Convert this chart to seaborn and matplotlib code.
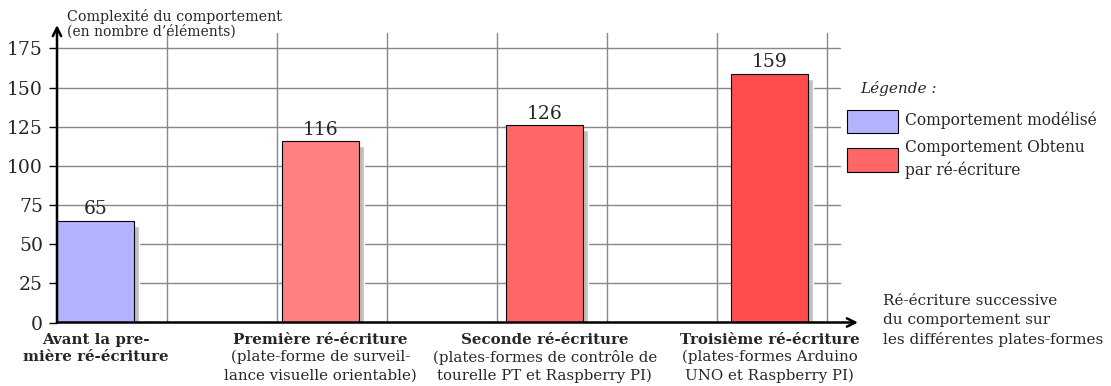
import numpy as np
import matplotlib
matplotlib.use('Agg')
import matplotlib.pyplot as plt
import seaborn as sns
from matplotlib.patches import Rectangle

# data
categories = ['Avant', 'Première', 'Seconde', 'Troisième']
values = [65, 116, 126, 159]
bar_colors = ['#b3b3ff', '#ff8080', '#ff6666', '#ff4d4d']
titles = ['Avant la pre-\nmière ré-écriture', 'Première ré-écriture',
          'Seconde ré-écriture', 'Troisième ré-écriture']
subtitles = ['', '(plate-forme de surveil-\nlance visuelle orientable)',
             '(plates-formes de contrôle de\ntourelle PT et Raspberry PI)',
             '(plates-formes Arduino\nUNO et Raspberry PI)']
yticks = [0, 25, 50, 75, 100, 125, 150, 175]
legend_labels = ['Comportement modélisé', 'Comportement Obtenu\npar ré-écriture']
legend_colors = ['#b3b3ff', '#ff6666']

sns.set_style('white')
plt.rcParams['font.family'] = ['DejaVu Serif']

W, H = 1111, 386
fig = plt.figure(figsize=(W / 100, H / 100), dpi=100)
ax = fig.add_axes([57 / W, (H - 322.5) / H, 801 / W, 297.5 / H])

ux = 224.67            # px per category step
uy = 297.5 / 190       # px per y unit
x0 = -38.5 / ux        # y axis position
x1 = x0 + 801 / ux     # arrow tip
gx_end = x0 + 783 / ux
bw = 77 / ux

# grid
for v in yticks[1:]:
    ax.plot([x0, gx_end], [v, v], color='#888888', lw=1.0, zorder=0)
for k in range(7):
    gx = x0 + (110 * (k + 1)) / ux
    ax.plot([gx, gx], [0, 184.7], color='#888888', lw=1.0, zorder=0)

# shadows + bars
ax.bar(np.arange(len(values)) + 5 / ux, np.array(values) - 5 / uy, width=bw,
       color='#c0c0c0', zorder=1)
sns.barplot(x=categories, y=values, hue=categories, palette=bar_colors,
            width=bw, edgecolor='black', linewidth=0.8, legend=False,
            saturation=1, ax=ax, zorder=3)

for i, v in enumerate(values):
    ax.text(i, v + 4, str(v), ha='center', va='baseline',
            fontsize=13.5, zorder=5)

ax.set_xlim(x0, x1)
ax.set_ylim(0, 190)
for s in ax.spines.values():
    s.set_visible(False)
ax.set_xlabel('')
ax.set_ylabel('')
ax.set_xticks([])
ax.set_yticks(yticks)
ax.tick_params(axis='y', left=True, length=6, width=1, pad=4,
               labelsize=13.5, color='black')

# axis arrows
arr = dict(arrowstyle='->', lw=1.8, color='black', mutation_scale=15,
           shrinkA=0, shrinkB=0)
ax.annotate('', xy=(x1, 0), xytext=(x0, 0), arrowprops=arr,
            annotation_clip=False, zorder=6)
ax.annotate('', xy=(x0, 190), xytext=(x0, 0), arrowprops=arr,
            annotation_clip=False, zorder=6)

# category labels
tr = ax.get_xaxis_transform()
def fy(py):
    return (322.5 - py) / 297.5

for i, (t, s) in enumerate(zip(titles, subtitles)):
    ax.text(i, fy(333), t, ha='center', va='top', fontsize=10.8,
            fontweight='bold', transform=tr, linespacing=1.3)
    if s:
        ax.text(i, fy(350), s, ha='center', va='top', fontsize=10.8,
                transform=tr, linespacing=1.35)

def px(x, y):
    return x / W, 1 - y / H

fig.text(*px(883, 320.5), 'Ré-écriture successive\ndu comportement sur\nles différentes plates-formes',
         ha='left', va='center', fontsize=11, linespacing=1.4)
fig.text(*px(67, 16), 'Complexité du comportement', ha='left', va='center',
         fontsize=10.3)
fig.text(*px(67, 32), '(en nombre d\u2019éléments)', ha='left', va='center',
         fontsize=10)

# legend
fig.text(*px(860, 89), 'Légende :', ha='left', va='center', fontsize=11,
         style='italic')
for (yt, yb), lab, c in zip([(110, 133), (148, 172)], legend_labels, legend_colors):
    fig.add_artist(Rectangle(px(847, yb), 51 / W, (yb - yt) / H,
                             transform=fig.transFigure, facecolor=c,
                             edgecolor='black', lw=0.8))
    fig.text(*px(905, (yt + yb) / 2 - 1), lab, ha='left', va='center',
             fontsize=11.2, linespacing=1.35)

fig.savefig('out.png', dpi=100)
